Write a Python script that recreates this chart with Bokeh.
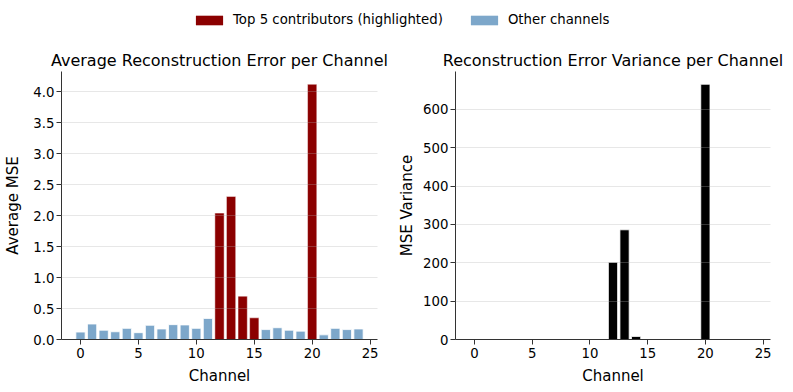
from bokeh.plotting import figure
from bokeh.models import (ColumnDataSource, FixedTicker, Range1d, Legend, LegendItem,
                          NumeralTickFormatter)
from bokeh.layouts import column, row
from bokeh.embed import file_html
from bokeh.resources import INLINE

# ---- data ----
channels = list(range(25))
avg_mse = [0.12, 0.25, 0.15, 0.125, 0.18, 0.11, 0.23, 0.17, 0.24, 0.235, 0.18, 0.34,
           2.04, 2.31, 0.70, 0.35, 0.16, 0.19, 0.15, 0.135, 4.12, 0.075, 0.18, 0.16, 0.17]
mse_var = [0.3, 0.6, 0.3, 0.2, 0.4, 0.2, 0.5, 0.3, 0.5, 0.5, 0.4, 0.9,
           201.5, 286.0, 8.0, 1.5, 0.3, 0.4, 0.3, 0.3, 665.5, 0.1, 0.4, 0.3, 0.4]
top5 = [12, 13, 14, 15, 20]
x_ticks = [0, 5, 10, 15, 20, 25]
avg_ticks = [0.0, 0.5, 1.0, 1.5, 2.0, 2.5, 3.0, 3.5, 4.0]
var_ticks = [0, 100, 200, 300, 400, 500, 600]
legend_labels = ["Top 5 contributors (highlighted)", "Other channels"]
titles = ["Average Reconstruction Error per Channel", "Reconstruction Error Variance per Channel"]
x_label = "Channel"
y_labels = ["Average MSE", "MSE Variance"]

RED = "#8B0000"
BLUE = "steelblue"
FONT = "DejaVu Sans"

hi_idx = [i for i, c in enumerate(channels) if c in top5]
lo_idx = [i for i, c in enumerate(channels) if c not in top5]
src_hi = ColumnDataSource(dict(x=[channels[i] for i in hi_idx], top=[avg_mse[i] for i in hi_idx]))
src_lo = ColumnDataSource(dict(x=[channels[i] for i in lo_idx], top=[avg_mse[i] for i in lo_idx]))
src_var = ColumnDataSource(dict(x=channels, top=mse_var))

x_lo = min(channels) - 0.4
x_hi = max(channels) + 0.4
x_pad = 0.05 * (x_hi - x_lo)


def style(p, ylabel, yticks):
    p.title.text_font = FONT
    p.title.text_font_size = "16px"
    p.title.text_font_style = "normal"
    p.title.align = "center"
    p.title.standoff = 3
    p.title.text_color = "#000000"
    p.outline_line_color = None
    p.xgrid.grid_line_color = None
    p.ygrid.grid_line_color = "#b0b0b0"
    p.ygrid.grid_line_alpha = 0.3
    p.ygrid.level = "overlay"
    p.xaxis.ticker = FixedTicker(ticks=x_ticks)
    p.yaxis.ticker = FixedTicker(ticks=yticks)
    p.xaxis.axis_label = x_label
    p.yaxis.axis_label = ylabel
    for ax in (p.xaxis[0], p.yaxis[0]):
        ax.axis_label_text_font = FONT
        ax.axis_label_text_font_size = "15px"
        ax.axis_label_text_font_style = "normal"
        ax.axis_label_text_color = "#000000"
        ax.major_label_text_font = FONT
        ax.major_label_text_font_size = "13.3px"
        ax.major_label_text_color = "#000000"
        ax.axis_line_color = "#333333"
        ax.major_tick_line_color = "#333333"
        ax.major_tick_in = 0
        ax.major_tick_out = 5
        ax.minor_tick_line_color = None
    p.xaxis.major_label_standoff = 3
    p.xaxis.axis_label_standoff = 6
    p.yaxis.major_label_standoff = 2


# ---- left ----
p1 = figure(width=395, height=352, output_backend="svg", toolbar_location=None,
            title=titles[0],
            x_range=Range1d(x_lo - x_pad, x_hi + x_pad),
            y_range=Range1d(0, max(avg_mse) * 1.05),
            min_border_left=61, min_border_right=18, min_border_top=31, min_border_bottom=53)
p1.vbar(x="x", top="top", width=0.8, source=src_lo, fill_color=BLUE, fill_alpha=0.7,
        line_color="white", line_width=0.8)
p1.vbar(x="x", top="top", width=0.8, source=src_hi, fill_color=RED,
        line_color="white", line_width=0.8, line_alpha=0.6)
style(p1, y_labels[0], avg_ticks)
p1.yaxis.formatter = NumeralTickFormatter(format="0.0")
p1.yaxis.axis_label_standoff = 8

# ---- right ----
p2 = figure(width=398, height=352, output_backend="svg", toolbar_location=None,
            title=titles[1],
            x_range=Range1d(x_lo - x_pad, x_hi + x_pad),
            y_range=Range1d(0, max(mse_var) * 1.05),
            min_border_left=59, min_border_right=23, min_border_top=31, min_border_bottom=53)
p2.vbar(x="x", top="top", width=0.8, source=src_var, fill_color="black",
        line_color="white", line_width=0.8)
style(p2, y_labels[1], var_ticks)
p2.yaxis.axis_label_standoff = 4

# ---- legend strip (its bars lie outside its visible ranges; only the legend shows) ----
pl = figure(width=793, height=40, output_backend="svg", toolbar_location=None,
            x_range=Range1d(-1000, -999), y_range=Range1d(-1000, -999),
            min_border=0, min_border_left=0, min_border_right=0,
            min_border_top=0, min_border_bottom=0)
pl.axis.visible = False
pl.grid.grid_line_color = None
pl.outline_line_color = None
r_hi = pl.vbar(x="x", top="top", width=0.8, source=src_hi, fill_color=RED, line_color=None)
r_lo = pl.vbar(x="x", top="top", width=0.8, source=src_lo, fill_color=BLUE, fill_alpha=0.7,
               line_color=None)
leg = Legend(items=[LegendItem(label=legend_labels[0], renderers=[r_hi]),
                    LegendItem(label=legend_labels[1], renderers=[r_lo])],
             orientation="horizontal", location=(192, 13),
             border_line_color=None, background_fill_alpha=0,
             padding=0, margin=0, spacing=24, label_standoff=7,
             glyph_width=34, glyph_height=12, label_height=14,
             label_text_font=FONT, label_text_font_size="13.3px",
             label_text_color="#000000")
pl.add_layout(leg, "center")

layout = column(pl, row(p1, p2, spacing=0), spacing=0)

open("out.html", "w").write(file_html(layout, INLINE))
